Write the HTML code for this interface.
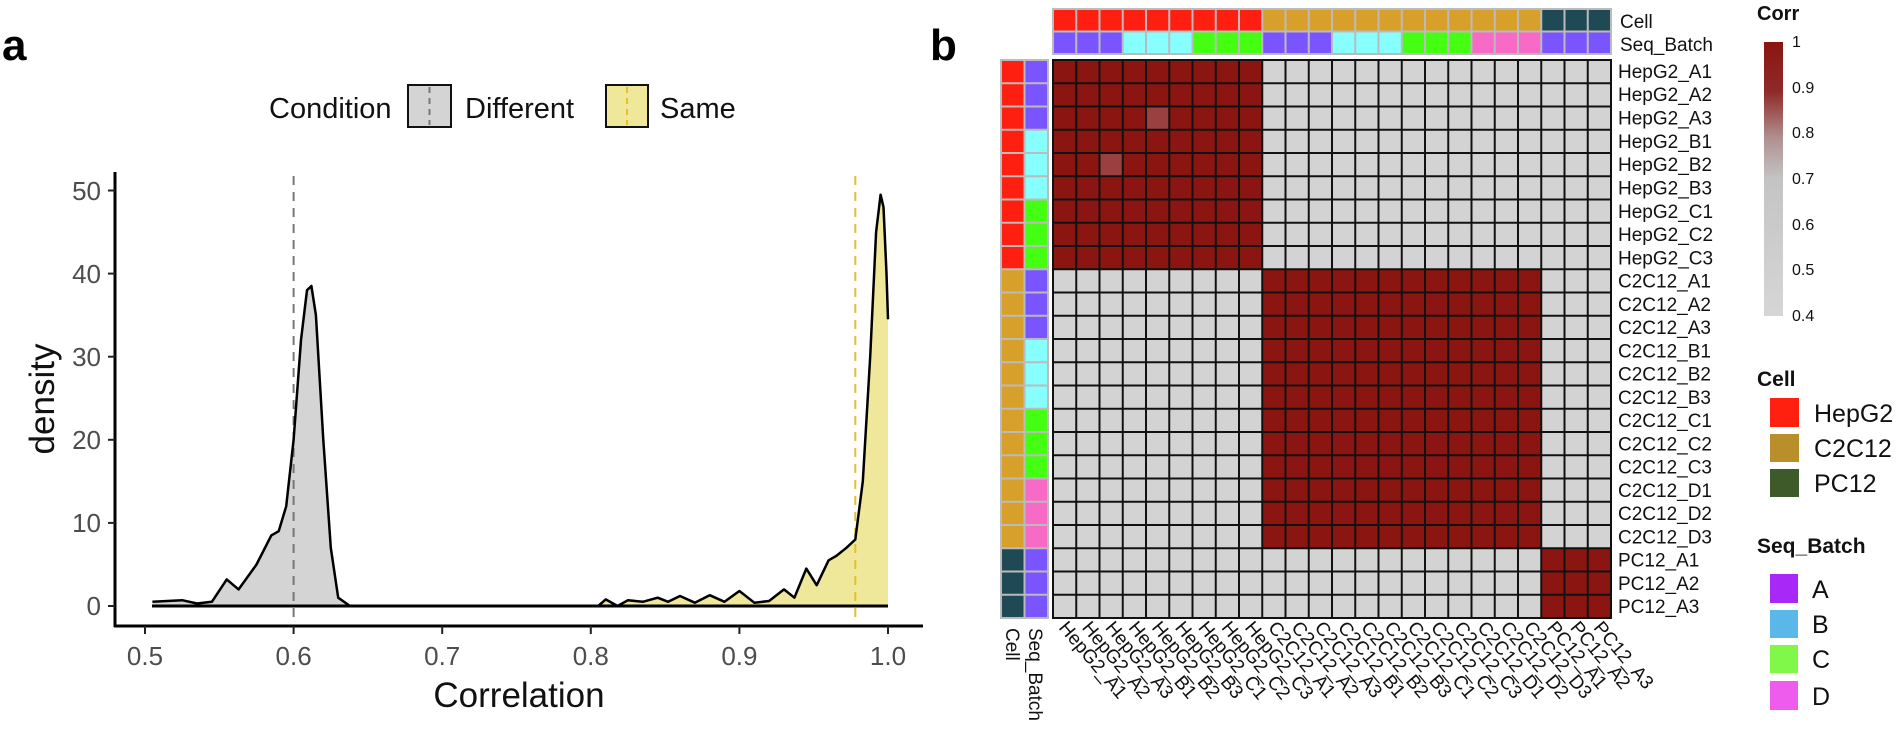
<!DOCTYPE html>
<html><head><meta charset="utf-8"><style>
html,body{margin:0;padding:0;background:#fff;}
svg{display:block;font-family:"Liberation Sans",Arial,sans-serif;}
</style></head><body>
<svg width="1900" height="741" viewBox="0 0 1900 741" xmlns="http://www.w3.org/2000/svg">
<defs>
<pattern id="grid" x="1053" y="60" width="23.25" height="23.25" patternUnits="userSpaceOnUse">
<rect x="0" y="0" width="23.25" height="23.25" fill="none" stroke="#111" stroke-width="2"/>
</pattern>
<pattern id="agridT" x="1053" y="9" width="23.25" height="22.5" patternUnits="userSpaceOnUse">
<rect x="0" y="0" width="23.25" height="22.5" fill="none" stroke="#bbb" stroke-width="2"/>
</pattern>
<pattern id="agridL" x="1001" y="60" width="23.5" height="23.25" patternUnits="userSpaceOnUse">
<rect x="0" y="0" width="23.5" height="23.25" fill="none" stroke="#bbb" stroke-width="2"/>
</pattern>
<linearGradient id="cg" x1="0" y1="0" x2="0" y2="1">
<stop offset="0" stop-color="#8b1510"/>
<stop offset="0.18" stop-color="#8f2a28"/>
<stop offset="0.35" stop-color="#b09090"/>
<stop offset="0.5" stop-color="#c4c4c4"/>
<stop offset="1" stop-color="#d6d6d6"/>
</linearGradient>
</defs>

<!-- Panel a -->
<text x="2" y="60" font-size="44" font-weight="bold">a</text>
<text x="269" y="118" font-size="29" fill="#111">Condition</text>
<rect x="408" y="85" width="43" height="42" fill="#d4d4d4" stroke="#111" stroke-width="2"/>
<line x1="429.5" y1="87" x2="429.5" y2="125" stroke="#777" stroke-width="2" stroke-dasharray="6,5"/>
<text x="465" y="118" font-size="29" fill="#111">Different</text>
<rect x="606" y="85" width="42" height="42" fill="#efe89b" stroke="#111" stroke-width="2"/>
<line x1="627" y1="87" x2="627" y2="125" stroke="#e6c02a" stroke-width="2" stroke-dasharray="6,5"/>
<text x="660" y="118" font-size="29" fill="#111">Same</text>

<polygon fill="#d4d4d4" points="152.4,606 152.4,601.8 167.3,601 182.2,600.2 197,603.5 211.9,601.8 226.7,579.4 238.6,589.4 256.5,564.5 271.3,535.4 278.7,531.2 286.2,506.3 293.6,439.8 301,340 307,290.2 311.4,286 315.9,315 323.3,439.8 330.8,547.8 338.2,597.7 350,606"/>
<polygon fill="#efe89b" points="598.2,606 605.7,599.4 617.5,606 628,600.2 642.8,601.8 657.7,597.7 668.1,601.8 680,596 694.8,602.7 709.7,595.2 724.5,601.8 739.4,591 754.3,602.7 769.1,601 784,589.4 794.4,597.7 806.3,568.6 816.7,585.2 828.6,560.3 836,556.1 846.4,547.8 855.3,539.5 862.8,481.4 870.2,356.7 876.1,232 880.6,194.7 883.5,207.1 886.5,273.6 888,319.3 888,606"/>
<line x1="293.6" y1="176" x2="293.6" y2="624" stroke="#777" stroke-width="2" stroke-dasharray="9,7"/>
<line x1="855.3" y1="176" x2="855.3" y2="624" stroke="#e6c02a" stroke-width="2" stroke-dasharray="9,7"/>
<polyline fill="none" stroke="#000" stroke-width="2.5" stroke-linejoin="round" points="152.4,601.8 167.3,601 182.2,600.2 197,603.5 211.9,601.8 226.7,579.4 238.6,589.4 256.5,564.5 271.3,535.4 278.7,531.2 286.2,506.3 293.6,439.8 301,340 307,290.2 311.4,286 315.9,315 323.3,439.8 330.8,547.8 338.2,597.7 350,606"/>
<polyline fill="none" stroke="#000" stroke-width="2.5" stroke-linejoin="round" points="598.2,606 605.7,599.4 617.5,606 628,600.2 642.8,601.8 657.7,597.7 668.1,601.8 680,596 694.8,602.7 709.7,595.2 724.5,601.8 739.4,591 754.3,602.7 769.1,601 784,589.4 794.4,597.7 806.3,568.6 816.7,585.2 828.6,560.3 836,556.1 846.4,547.8 855.3,539.5 862.8,481.4 870.2,356.7 876.1,232 880.6,194.7 883.5,207.1 886.5,273.6 888,319.3"/>
<line x1="152" y1="606" x2="888" y2="606" stroke="#000" stroke-width="3"/>

<!-- axes -->
<line x1="115" y1="172" x2="115" y2="627" stroke="#000" stroke-width="3"/>
<line x1="114" y1="626" x2="923" y2="626" stroke="#000" stroke-width="3"/>
<g stroke="#222" stroke-width="2">
<line x1="108" y1="606" x2="115" y2="606"/><line x1="108" y1="522.9" x2="115" y2="522.9"/><line x1="108" y1="439.8" x2="115" y2="439.8"/><line x1="108" y1="356.7" x2="115" y2="356.7"/><line x1="108" y1="273.6" x2="115" y2="273.6"/><line x1="108" y1="190.5" x2="115" y2="190.5"/>
<line x1="145" y1="626" x2="145" y2="634"/><line x1="293.6" y1="626" x2="293.6" y2="634"/><line x1="442.2" y1="626" x2="442.2" y2="634"/><line x1="590.8" y1="626" x2="590.8" y2="634"/><line x1="739.4" y1="626" x2="739.4" y2="634"/><line x1="888" y1="626" x2="888" y2="634"/>
</g>
<g font-size="26" fill="#4d4d4d" text-anchor="end">
<text x="101" y="615">0</text><text x="101" y="532">10</text><text x="101" y="449">20</text><text x="101" y="366">30</text><text x="101" y="283">40</text><text x="101" y="200">50</text>
</g>
<g font-size="26" fill="#4d4d4d" text-anchor="middle">
<text x="145" y="665">0.5</text><text x="293.6" y="665">0.6</text><text x="442.2" y="665">0.7</text><text x="590.8" y="665">0.8</text><text x="739.4" y="665">0.9</text><text x="888" y="665">1.0</text>
</g>
<text x="519" y="707" font-size="35" text-anchor="middle" fill="#111">Correlation</text>
<text transform="translate(54,399) rotate(-90)" font-size="35" text-anchor="middle" fill="#111">density</text>

<!-- Panel b -->
<text x="930" y="60" font-size="44" font-weight="bold">b</text>

<rect x="1053" y="9" width="209.25" height="22.5" fill="#ff1f10"/>
<rect x="1262.25" y="9" width="279" height="22.5" fill="#d6a02b"/>
<rect x="1541.25" y="9" width="69.75" height="22.5" fill="#1f4a55"/>
<rect x="1053" y="31.5" width="69.75" height="22.5" fill="#7a55ff"/>
<rect x="1122.75" y="31.5" width="69.75" height="22.5" fill="#88ffff"/>
<rect x="1192.5" y="31.5" width="69.75" height="22.5" fill="#44ff11"/>
<rect x="1262.25" y="31.5" width="69.75" height="22.5" fill="#7a55ff"/>
<rect x="1332" y="31.5" width="69.75" height="22.5" fill="#88ffff"/>
<rect x="1401.75" y="31.5" width="69.75" height="22.5" fill="#44ff11"/>
<rect x="1471.5" y="31.5" width="69.75" height="22.5" fill="#f76ac6"/>
<rect x="1541.25" y="31.5" width="69.75" height="22.5" fill="#7a55ff"/>
<rect x="1053" y="9" width="558" height="45" fill="url(#agridT)" stroke="#bbb" stroke-width="2"/>
<text x="1620" y="28" font-size="19" fill="#111">Cell</text>
<text x="1620" y="51" font-size="19" fill="#111">Seq_Batch</text>

<rect x="1001" y="60" width="23.5" height="209.25" fill="#ff1f10"/>
<rect x="1001" y="269.25" width="23.5" height="279" fill="#d6a02b"/>
<rect x="1001" y="548.25" width="23.5" height="69.75" fill="#1f4a55"/>
<rect x="1024.5" y="60" width="23.5" height="69.75" fill="#7a55ff"/>
<rect x="1024.5" y="129.75" width="23.5" height="69.75" fill="#88ffff"/>
<rect x="1024.5" y="199.5" width="23.5" height="69.75" fill="#44ff11"/>
<rect x="1024.5" y="269.25" width="23.5" height="69.75" fill="#7a55ff"/>
<rect x="1024.5" y="339" width="23.5" height="69.75" fill="#88ffff"/>
<rect x="1024.5" y="408.75" width="23.5" height="69.75" fill="#44ff11"/>
<rect x="1024.5" y="478.5" width="23.5" height="69.75" fill="#f76ac6"/>
<rect x="1024.5" y="548.25" width="23.5" height="69.75" fill="#7a55ff"/>
<rect x="1001" y="60" width="47" height="558" fill="url(#agridL)" stroke="#bbb" stroke-width="2"/>

<rect x="1053" y="60" width="558" height="558" fill="#d3d3d3"/>
<rect x="1053" y="60" width="209.25" height="209.25" fill="#8b1510"/>
<rect x="1262.25" y="269.25" width="279" height="279" fill="#8b1510"/>
<rect x="1541.25" y="548.25" width="69.75" height="69.75" fill="#8b1510"/>
<rect x="1146" y="106.5" width="23.25" height="23.25" fill="#9b4040"/>
<rect x="1099.5" y="153" width="23.25" height="23.25" fill="#9b4040"/>
<rect x="1053" y="60" width="558" height="558" fill="url(#grid)" stroke="#111" stroke-width="2"/>

<g font-size="19" fill="#111">
<text x="1618" y="78">HepG2_A1</text><text x="1618" y="101">HepG2_A2</text><text x="1618" y="124.5">HepG2_A3</text><text x="1618" y="148">HepG2_B1</text><text x="1618" y="171">HepG2_B2</text><text x="1618" y="194.5">HepG2_B3</text><text x="1618" y="218">HepG2_C1</text><text x="1618" y="241">HepG2_C2</text><text x="1618" y="264.5">HepG2_C3</text>
<text x="1618" y="287.5">C2C12_A1</text><text x="1618" y="311">C2C12_A2</text><text x="1618" y="334">C2C12_A3</text><text x="1618" y="357.5">C2C12_B1</text><text x="1618" y="380.5">C2C12_B2</text><text x="1618" y="404">C2C12_B3</text><text x="1618" y="427">C2C12_C1</text><text x="1618" y="450.5">C2C12_C2</text><text x="1618" y="473.5">C2C12_C3</text><text x="1618" y="497">C2C12_D1</text><text x="1618" y="520">C2C12_D2</text><text x="1618" y="543.5">C2C12_D3</text>
<text x="1618" y="566.5">PC12_A1</text><text x="1618" y="590">PC12_A2</text><text x="1618" y="613">PC12_A3</text>
</g>

<g font-size="19" fill="#111">
<text transform="translate(1006,628) rotate(90)">Cell</text>
<text transform="translate(1029,628) rotate(90)">Seq_Batch</text>
<text transform="translate(1058,628) rotate(50)">HepG2_A1</text>
<text transform="translate(1081.25,628) rotate(50)">HepG2_A2</text>
<text transform="translate(1104.5,628) rotate(50)">HepG2_A3</text>
<text transform="translate(1127.75,628) rotate(50)">HepG2_B1</text>
<text transform="translate(1151,628) rotate(50)">HepG2_B2</text>
<text transform="translate(1174.25,628) rotate(50)">HepG2_B3</text>
<text transform="translate(1197.5,628) rotate(50)">HepG2_C1</text>
<text transform="translate(1220.75,628) rotate(50)">HepG2_C2</text>
<text transform="translate(1244,628) rotate(50)">HepG2_C3</text>
<text transform="translate(1267.25,628) rotate(50)">C2C12_A1</text>
<text transform="translate(1290.5,628) rotate(50)">C2C12_A2</text>
<text transform="translate(1313.75,628) rotate(50)">C2C12_A3</text>
<text transform="translate(1337,628) rotate(50)">C2C12_B1</text>
<text transform="translate(1360.25,628) rotate(50)">C2C12_B2</text>
<text transform="translate(1383.5,628) rotate(50)">C2C12_B3</text>
<text transform="translate(1406.75,628) rotate(50)">C2C12_C1</text>
<text transform="translate(1430,628) rotate(50)">C2C12_C2</text>
<text transform="translate(1453.25,628) rotate(50)">C2C12_C3</text>
<text transform="translate(1476.5,628) rotate(50)">C2C12_D1</text>
<text transform="translate(1499.75,628) rotate(50)">C2C12_D2</text>
<text transform="translate(1523,628) rotate(50)">C2C12_D3</text>
<text transform="translate(1546.25,628) rotate(50)">PC12_A1</text>
<text transform="translate(1569.5,628) rotate(50)">PC12_A2</text>
<text transform="translate(1592.75,628) rotate(50)">PC12_A3</text>
</g>

<text x="1757" y="20" font-size="20" font-weight="bold" fill="#111">Corr</text>
<rect x="1764" y="42" width="19" height="274" fill="url(#cg)"/>
<g font-size="16" fill="#111">
<text x="1792" y="47">1</text><text x="1792" y="93">0.9</text><text x="1792" y="138">0.8</text><text x="1792" y="184">0.7</text><text x="1792" y="230">0.6</text><text x="1792" y="275">0.5</text><text x="1792" y="321">0.4</text>
</g>
<text x="1757" y="386" font-size="21" font-weight="bold" fill="#111">Cell</text>
<rect x="1770" y="398" width="29" height="29" fill="#ff2010"/>
<rect x="1770" y="434" width="29" height="28" fill="#b88f2a"/>
<rect x="1770" y="469" width="29" height="28" fill="#3d5a28"/>
<g font-size="25" fill="#111">
<text x="1814" y="422">HepG2</text><text x="1814" y="457">C2C12</text><text x="1814" y="492">PC12</text>
</g>
<text x="1757" y="553" font-size="21" font-weight="bold" fill="#111">Seq_Batch</text>
<rect x="1770" y="574" width="28" height="29" fill="#a828f8"/>
<rect x="1770" y="610" width="28" height="28" fill="#5ab8e8"/>
<rect x="1770" y="645" width="28" height="28" fill="#7ff84a"/>
<rect x="1770" y="681" width="28" height="29" fill="#ee5cee"/>
<g font-size="25" fill="#111">
<text x="1812" y="598">A</text><text x="1812" y="633">B</text><text x="1812" y="668">C</text><text x="1812" y="705">D</text>
</g>
</svg>
</body></html>
